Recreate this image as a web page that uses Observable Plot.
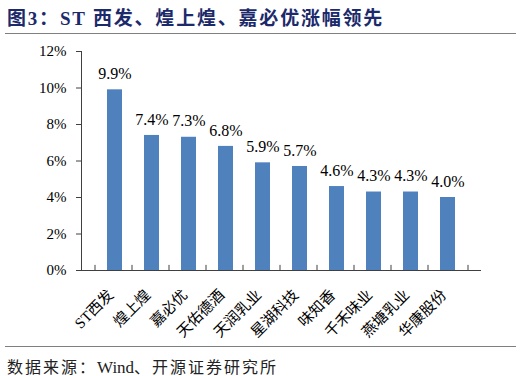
<!DOCTYPE html>
<html><head><meta charset="utf-8">
<script src="https://cdn.jsdelivr.net/npm/d3@7"></script>
<script src="https://cdn.jsdelivr.net/npm/@observablehq/plot@0.6"></script>
<style>
body{margin:0;background:#fff;width:522px;height:376px;position:relative;overflow:hidden;font-family:"Liberation Serif","Noto Sans CJK SC",serif;}
#title{position:absolute;left:7px;top:3px;font-size:19px;font-weight:bold;color:#1c2a6b;letter-spacing:1.8px;white-space:nowrap;}
#line1{position:absolute;left:5px;top:33px;width:511px;height:0;border-top:1.5px solid #7f7f7f;}
#chart{position:absolute;left:0;top:36px;}
#line2{position:absolute;left:5px;top:346px;width:511px;height:0;border-top:1.5px solid #7f7f7f;}
#caption{position:absolute;left:7px;top:354px;font-size:16px;color:#222;letter-spacing:2px;white-space:nowrap;}
#caption span{letter-spacing:0;font-size:17px;}
</style></head>
<body>
<div id="title">图3：ST 西发、煌上煌、嘉必优涨幅领先</div>
<div id="line1"></div>
<div id="chart"></div>
<div id="line2"></div>
<div id="caption">数据来源：<span>Wind</span>、开源证券研究所</div>
<script>
const categories = ["ST西发","煌上煌","嘉必优","天佑德酒","天润乳业","星湖科技","味知香","千禾味业","燕塘乳业","华康股份"];
const values = [9.9, 7.4, 7.3, 6.8, 5.9, 5.7, 4.6, 4.3, 4.3, 4.0];
const yTicks = [0, 2, 4, 6, 8, 10, 12];

const FONT = "Liberation Serif, Noto Sans CJK SC, serif";
const data = categories.map((c, i) => ({name: c, value: values[i]}));
const last = [categories[categories.length - 1]];

const plot = Plot.plot({
  width: 522,
  height: 308,
  marginTop: 15,
  marginBottom: 74,
  marginLeft: 81,
  marginRight: 41,
  style: {fontSize: "15px", fontFamily: FONT, color: "#000", background: "transparent"},
  x: {domain: categories, padding: 0.6, label: null},
  y: {domain: [0, 12], label: null},
  marks: [
    Plot.barY(data, {x: "name", y: "value", fill: "#4f81bd"}),
    Plot.text(data, {x: "name", y: "value", text: d => d.value.toFixed(1) + "%", dy: -16, fontSize: 16, fontFamily: FONT, fill: "#000"}),
    Plot.frame({anchor: "left", stroke: "#404040"}),
    Plot.ruleY([0], {stroke: "#404040"}),
    Plot.ruleX(categories, {x: d => d, dx: -20, y1: 0, y2: 0.28, stroke: "#404040"}),
    Plot.ruleX(last, {x: d => d, dx: 20, y1: 0, y2: 0.28, stroke: "#404040"}),
    Plot.axisY(yTicks, {tickFormat: d => d + "%", tickSize: 5, tickPadding: 10, stroke: "#404040", fontSize: 15, fontFamily: FONT, fill: "#000"}),
    Plot.axisX({tickSize: 0, tickRotate: -45, tickPadding: 22, dx: -4, fontSize: 15, fontFamily: FONT, fill: "#000"})
  ]
});
document.getElementById("chart").appendChild(plot);
</script>
</body></html>
